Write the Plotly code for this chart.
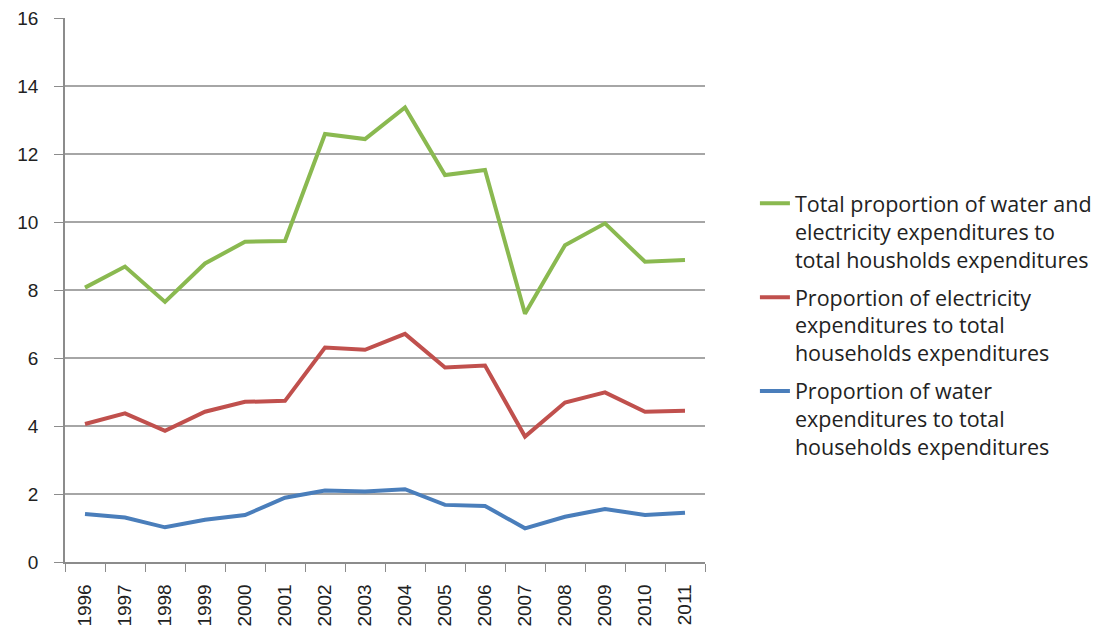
import plotly.graph_objects as go

years = [str(y) for y in range(1996, 2012)]
total = [8.07, 8.69, 7.65, 8.78, 9.42, 9.44, 12.59, 12.44, 13.37, 11.38, 11.53, 7.3, 9.32, 9.96, 8.83, 8.88]
electricity = [4.06, 4.37, 3.86, 4.42, 4.71, 4.74, 6.31, 6.24, 6.71, 5.72, 5.78, 3.69, 4.69, 4.99, 4.42, 4.45]
water = [1.41, 1.31, 1.02, 1.24, 1.38, 1.89, 2.10, 2.07, 2.14, 1.68, 1.65, 0.99, 1.33, 1.56, 1.38, 1.45]

names = [
    "Total proportion of water and<br>electricity expenditures to<br>total housholds expenditures",
    "Proportion of electricity<br>expenditures to total<br>households expenditures",
    "Proportion of water<br>expenditures to total<br>households expenditures",
]
colors = ["#8AB950", "#C0504D", "#4A7EBB"]

fig = go.Figure()
for i, (vals, name, col) in enumerate(zip([total, electricity, water], names, colors)):
    fig.add_trace(go.Scatter(x=years, y=vals, mode="lines", name=name,
                             legendgroup=f"g{i}",
                             line=dict(color=col, width=4)))

fig.update_layout(
    width=1106, height=624,
    margin=dict(l=57, r=409, t=10, b=70),
    paper_bgcolor="white", plot_bgcolor="white",
    font=dict(family="Liberation Sans, Arial, sans-serif", color="#222"),
    legend=dict(x=1.078, y=0.697, xanchor="left", yanchor="top",
                font=dict(family="Open Sans, sans-serif", size=21.5, color="#222"),
                valign="top", tracegroupgap=7, bgcolor="rgba(0,0,0,0)"),
    showlegend=True,
)
fig.update_xaxes(type="category", range=[-0.5, 15.5], tickangle=-90,
                 showline=True, linecolor="#8c8c8c", linewidth=1.5,
                 ticks="outside", tickson="boundaries", ticklen=8, tickcolor="#8c8c8c",
                 ticklabelstandoff=13, automargin=False, ticklabeloverflow="allow",
                 showgrid=False, tickfont=dict(size=19, color="#222"))
fig.update_yaxes(range=[0, 16], dtick=2, showline=True, linecolor="#8c8c8c", linewidth=1.5,
                 ticks="outside", ticklen=9, tickcolor="#8c8c8c",
                 ticklabelstandoff=12, automargin=False, ticklabeloverflow="allow",
                 showgrid=True, gridcolor="#a6a6a6", gridwidth=1.5, zeroline=False,
                 tickfont=dict(size=19, color="#222"))

fig.write_html("out.html")
